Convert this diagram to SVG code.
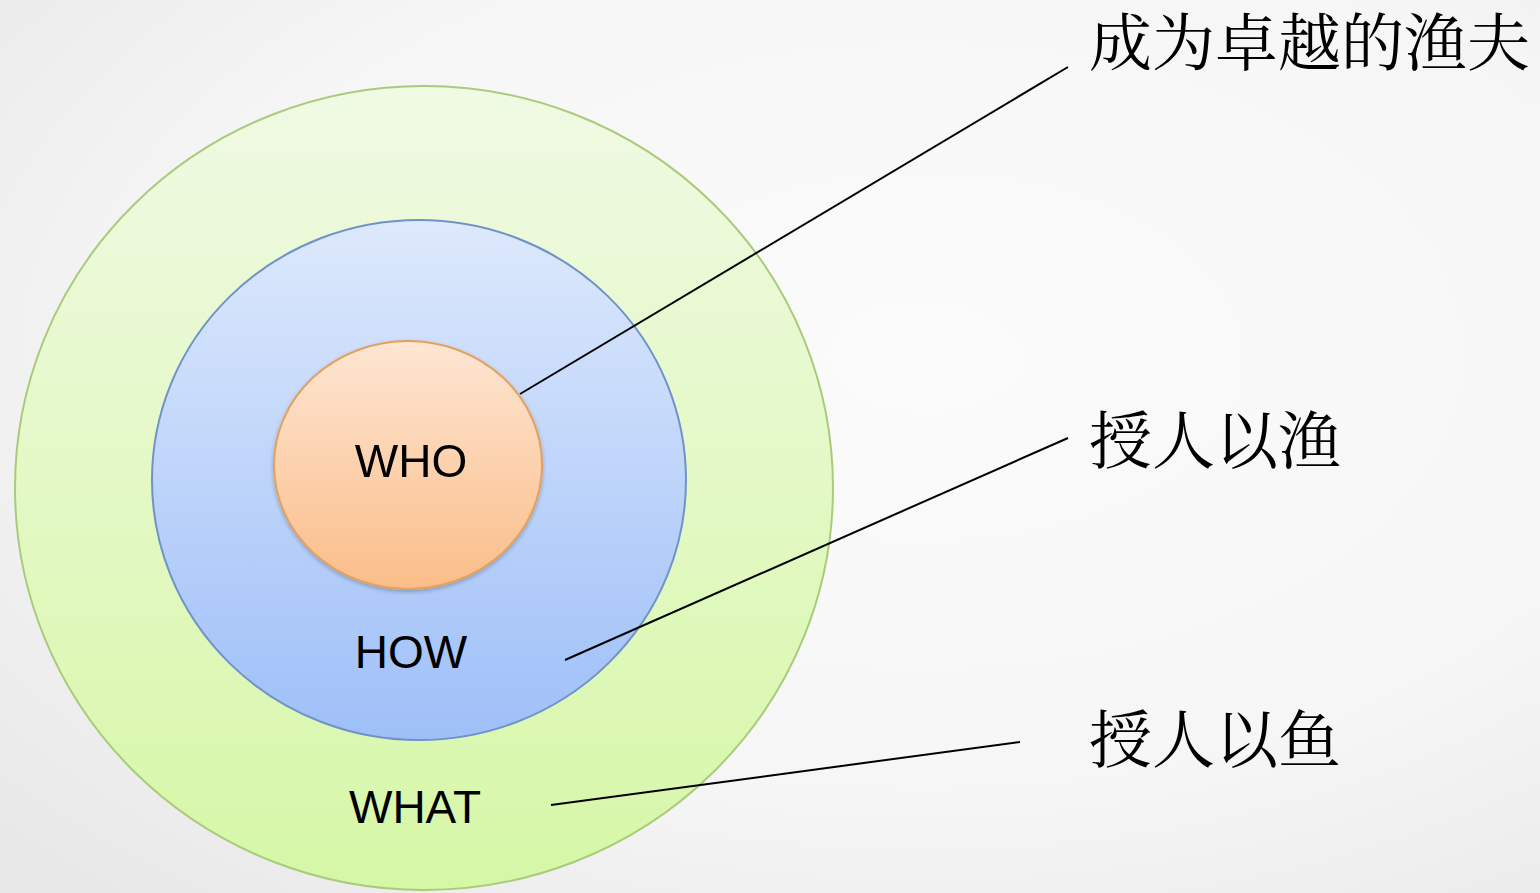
<svg xmlns="http://www.w3.org/2000/svg" width="1540" height="893" viewBox="0 0 1540 893">
<defs>
<radialGradient id="bg" cx="0.6" cy="0.4" r="0.8">
<stop offset="0" stop-color="#fbfbfb"/>
<stop offset="0.6" stop-color="#f6f6f6"/>
<stop offset="1" stop-color="#e8e8e8"/>
</radialGradient>
<linearGradient id="gGreen" x1="0" y1="0" x2="0" y2="1">
<stop offset="0" stop-color="#f0fae4"/>
<stop offset="1" stop-color="#d6f7a6"/>
</linearGradient>
<linearGradient id="gBlue" x1="0" y1="0" x2="0" y2="1">
<stop offset="0" stop-color="#dde9fc"/>
<stop offset="1" stop-color="#9ebff8"/>
</linearGradient>
<linearGradient id="gOrange" x1="0" y1="0" x2="0" y2="1">
<stop offset="0" stop-color="#fde6d3"/>
<stop offset="1" stop-color="#fbbd88"/>
</linearGradient>
<filter id="sh" x="-10%" y="-10%" width="120%" height="120%">
<feGaussianBlur in="SourceAlpha" stdDeviation="2"/>
<feOffset dy="2"/>
<feComponentTransfer><feFuncA type="linear" slope="0.25"/></feComponentTransfer>
<feMerge><feMergeNode/><feMergeNode in="SourceGraphic"/></feMerge>
</filter>
</defs>
<style>
.en{font-family:"Liberation Sans",Arial,sans-serif;font-size:46px;fill:#000;text-anchor:middle}
.zh{font-family:"Noto Serif CJK SC","Noto Sans CJK SC",serif;font-size:63px;fill:#000}
.conn{stroke:#000;stroke-width:2;fill:none}
</style>
<rect width="1540" height="893" fill="url(#bg)"/>
<g id="what">
<ellipse cx="424" cy="488" rx="409" ry="402" fill="url(#gGreen)" stroke="#aacb7c" stroke-width="2"/>
<text class="en" x="415" y="823">WHAT</text>
</g>
<g id="how">
<ellipse cx="419" cy="480" rx="267" ry="260" fill="url(#gBlue)" stroke="#6f93c9" stroke-width="2"/>
<text class="en" x="411" y="668">HOW</text>
</g>
<g id="who" filter="url(#sh)">
<ellipse cx="408" cy="465" rx="134" ry="124" fill="url(#gOrange)" stroke="#e3a060" stroke-width="2"/>
<text class="en" x="411" y="477">WHO</text>
</g>
<g id="connectors">
<line class="conn" x1="520" y1="394" x2="1068" y2="67"/>
<line class="conn" x1="565" y1="660" x2="1068" y2="438"/>
<line class="conn" x1="551" y1="805" x2="1020" y2="742"/>
</g>
<g id="labels">
<text class="zh" x="1089" y="65">成为卓越的渔夫</text>
<text class="zh" x="1089" y="463">授人以渔</text>
<text class="zh" x="1089" y="762">授人以鱼</text>
</g>
</svg>
